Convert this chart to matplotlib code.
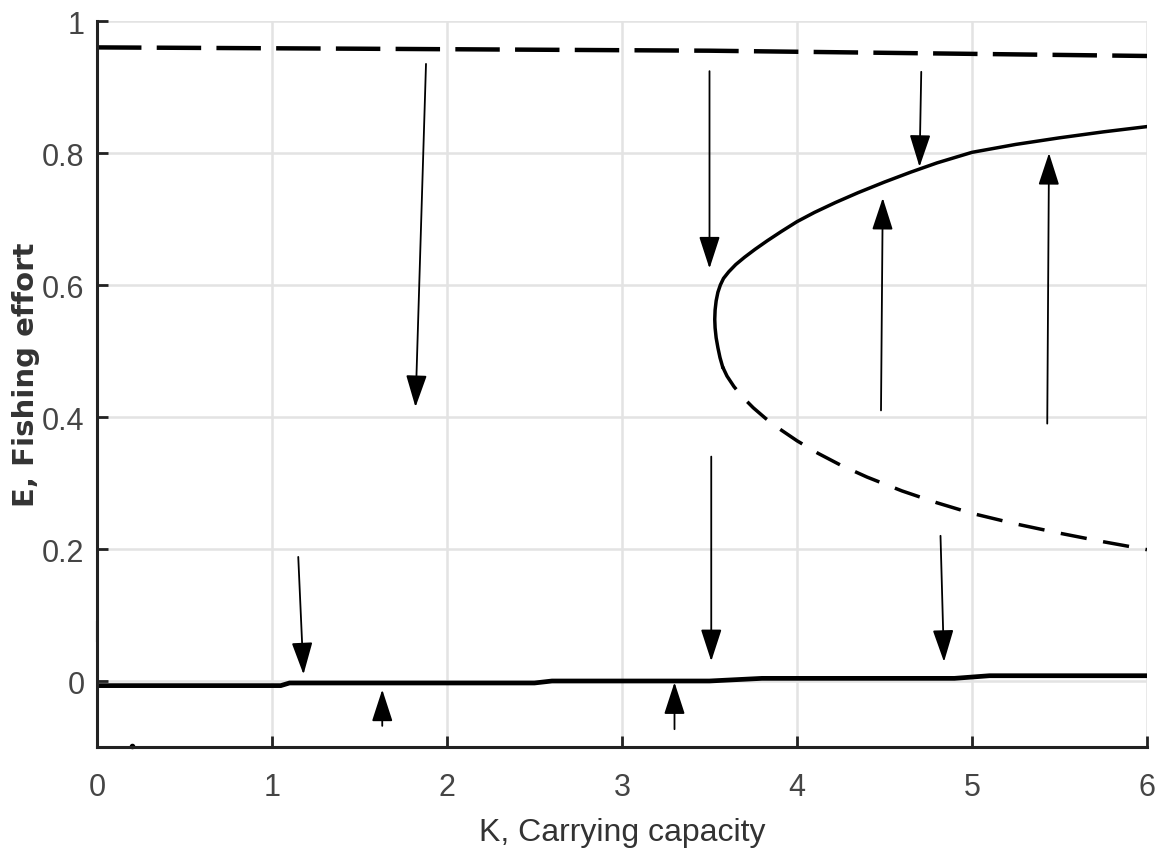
import matplotlib
matplotlib.use("Agg")
import matplotlib.pyplot as plt
from matplotlib.patches import FancyArrowPatch

# ---- data ----
# upper unstable equilibrium (dashed, near E=0.96)
top_K = [0.0, 1.5, 3.5, 6.0]
top_E = [0.960, 0.958, 0.955, 0.947]

# stable upper branch of the fold (solid)
up_K = [3.575, 3.56, 3.548, 3.538, 3.532, 3.530, 3.532, 3.538, 3.548, 3.562, 3.58, 3.61, 3.65,
        3.70, 3.76, 3.83, 3.91, 4.00, 4.10, 4.22, 4.35, 4.50, 4.65, 4.80, 5.00, 5.25, 5.50, 5.75, 6.00]
up_E = [0.476, 0.490, 0.505, 0.520, 0.535, 0.548, 0.562, 0.576, 0.589, 0.600, 0.610, 0.620, 0.631,
        0.642, 0.654, 0.667, 0.681, 0.696, 0.710, 0.725, 0.740, 0.756, 0.771, 0.785, 0.801, 0.813, 0.823, 0.832, 0.840]

# unstable lower branch of the fold (dashed)
lo_K = [3.575, 3.60, 3.64, 3.69, 3.75, 3.82, 3.90, 4.00, 4.12, 4.25, 4.40, 4.60, 4.80, 5.00, 5.25, 5.50, 5.75, 6.00]
lo_E = [0.476, 0.462, 0.446, 0.430, 0.414, 0.398, 0.382, 0.364, 0.345, 0.327, 0.309, 0.288, 0.270, 0.254, 0.238, 0.224, 0.211, 0.199]

# trivial equilibrium near E=0 (solid)
bot_K = [0.02, 1.05, 1.10, 2.50, 2.60, 3.50, 3.80, 4.90, 5.10, 6.00]
bot_E = [-0.007, -0.007, -0.003, -0.003, 0.000, 0.000, 0.004, 0.004, 0.008, 0.008]

# small stray marks near the origin
stray_K = [0.0, 0.0]
stray_E = [0.06, 0.09]
dot_K = [0.2]
dot_E = [-0.098]

# flow arrows: tail (K, E) -> tip (K, E)
arrow_tail_K = [1.88, 3.50, 4.71, 4.48, 5.43, 1.15, 1.63, 3.51, 3.30, 4.82]
arrow_tail_E = [0.935, 0.924, 0.923, 0.410, 0.390, 0.188, -0.068, 0.340, -0.073, 0.220]
arrow_tip_K = [1.82, 3.50, 4.70, 4.49, 5.44, 1.18, 1.63, 3.51, 3.30, 4.84]
arrow_tip_E = [0.415, 0.625, 0.779, 0.732, 0.800, 0.010, -0.013, 0.030, -0.002, 0.029]

x_ticks = [0, 1, 2, 3, 4, 5, 6]
x_tick_labels = ["0", "1", "2", "3", "4", "5", "6"]
y_ticks = [0, 0.2, 0.4, 0.6, 0.8, 1.0]
y_tick_labels = ["0", "0.2", "0.4", "0.6", "0.8", "1"]

# ---- drawing ----
plt.rcParams["lines.scale_dashes"] = False
W, H = 1171, 862
fig = plt.figure(figsize=(W / 100, H / 100), dpi=100)
ax = fig.add_axes([97 / W, 1 - 748 / H, (1147 - 97) / W, (748 - 22) / H])
ax.set_xlim(0, 6)
ax.set_ylim(-0.1, 1.0)

ax.grid(True, color="#e3e3e3", linewidth=1.8, zorder=0)
ax.set_axisbelow(True)
for s in ["top", "right"]:
    ax.spines[s].set_visible(False)
for s in ["left", "bottom"]:
    ax.spines[s].set_color("#222222")
    ax.spines[s].set_linewidth(2.2)

ax.plot(top_K, top_E, color="black", lw=3.2, dashes=(32, 11), dash_capstyle="butt")
ax.plot(up_K, up_E, color="black", lw=2.5, solid_joinstyle="round")
ax.plot(lo_K, lo_E, color="black", lw=2.5, dashes=(19, 12), dash_capstyle="butt")
ax.plot(bot_K, bot_E, color="black", lw=3.4, solid_joinstyle="miter")
ax.plot(stray_K, stray_E, color="black", lw=1.5, clip_on=False)
ax.plot(dot_K, dot_E, "o", color="black", ms=3, clip_on=False)

for tk, te, hk, he in zip(arrow_tail_K, arrow_tail_E, arrow_tip_K, arrow_tip_E):
    arr = FancyArrowPatch((tk, te), (hk, he),
                          arrowstyle="-|>,head_length=20,head_width=6.5",
                          mutation_scale=1, color="black", lw=1.3,
                          shrinkA=0, shrinkB=0, zorder=5)
    ax.add_patch(arr)

tick_font = ["Liberation Sans", "DejaVu Sans"]
ax.set_xticks(x_ticks)
ax.set_xticklabels(x_tick_labels, family=tick_font, fontsize=22, color="#454545")
ax.set_yticks(y_ticks)
ax.set_yticklabels(y_tick_labels, family=tick_font, fontsize=22, color="#454545")
ax.tick_params(axis="both", direction="in", length=8, width=2, color="#222222")
ax.tick_params(axis="x", pad=18)
ax.tick_params(axis="y", pad=9)

fig.text(622 / W, 1 - 833 / H, "K, Carrying capacity", ha="center", va="center",
         family=["Liberation Sans", "DejaVu Sans"], fontsize=23, color="#333333")
fig.text(26 / W, 1 - 375 / H, "E, Fishing effort", ha="center", va="center", rotation=90,
         family=["DejaVu Sans"], fontweight="bold", fontsize=21, color="#333333")

fig.savefig("out.png", dpi=100)
